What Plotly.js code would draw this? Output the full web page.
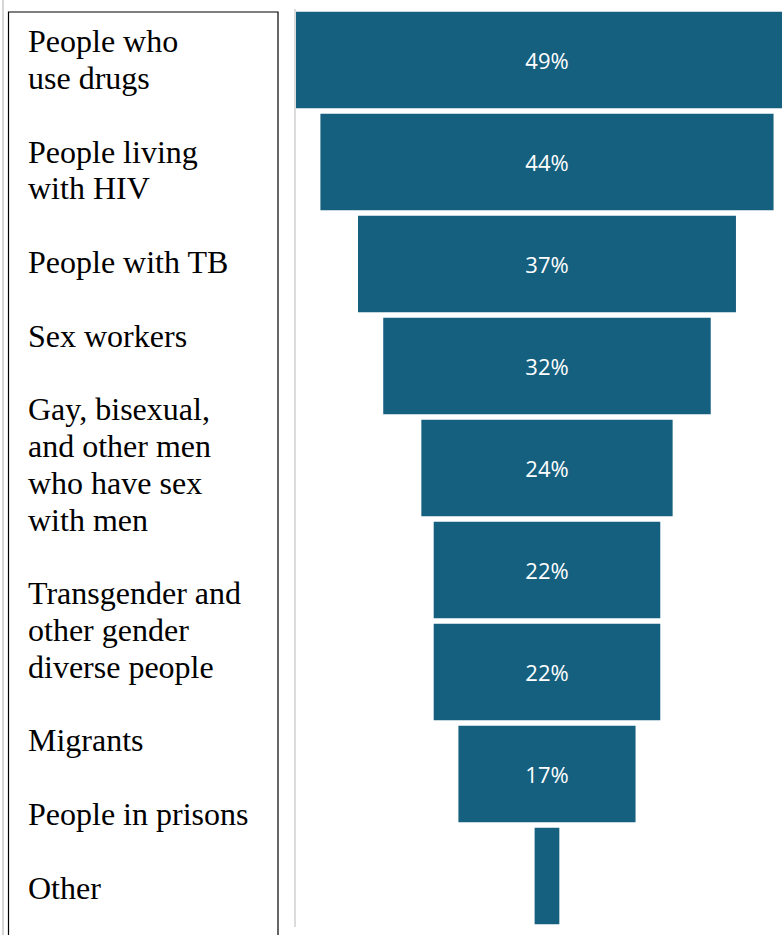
<!DOCTYPE html>
<html>
<head>
<meta charset="utf-8">
<script src="https://cdn.plot.ly/plotly-3.0.1.min.js"></script>
<style>
  html, body { margin: 0; padding: 0; overflow: hidden; background: #ffffff; }
  #chart { width: 782px; height: 935px; }
</style>
</head>
<body>
<div id="chart"></div>
<script>
// ---- data ----
const categories = [
  "People who\nuse drugs",
  "People living\nwith HIV",
  "People with TB",
  "Sex workers",
  "Gay, bisexual,\nand other men\nwho have sex\nwith men",
  "Transgender and\nother gender\ndiverse people",
  "Migrants",
  "People in prisons",
  "Other"
];
const values = [49, 44, 36.7, 31.8, 24.4, 22, 22, 17.2, 2.4];

// ---- layout geometry (pixels) ----
const W = 782, H = 935;
const M = { l: 296, r: 0, t: 9, b: 8 };
const plotW = W - M.l - M.r, plotH = H - M.t - M.b;
const pxX = px => (px - M.l) / plotW;          // pixel x -> paper x
const pxY = py => (H - M.b - py) / plotH;      // pixel y -> paper y

const barColor = "#16607f";
const labelFont = { family: "Liberation Serif, Times New Roman, serif", size: 32, color: "#000000" };
const lineStep = 36.8, firstBaseline = 52;

// Build label annotations: one per text line, with a blank line between groups
const annotations = [];
let lineIdx = 0;
categories.forEach(cat => {
  cat.split("\n").forEach(line => {
    const baseline = firstBaseline + lineStep * lineIdx;
    const center = baseline - 10.8;
    annotations.push({
      xref: "paper", yref: "paper",
      x: pxX(25.5), y: pxY(center),
      xanchor: "left", yanchor: "middle",
      text: line, showarrow: false,
      font: labelFont
    });
    lineIdx++;
  });
  lineIdx++; // blank line
});

const trace = {
  type: "funnel",
  orientation: "h",
  y: categories.map(c => c.replace(/\n/g, " ")),
  x: values,
  marker: { color: barColor, line: { width: 0 } },
  connector: { visible: false },
  texttemplate: "%{x:.0f}%",
  textposition: "inside",
  insidetextanchor: "middle",
  textfont: { family: "Open Sans, sans-serif", size: 22, color: "#ffffff" },
  hoverinfo: "x+y"
};

const layout = {
  width: W, height: H,
  margin: M,
  paper_bgcolor: "#ffffff",
  plot_bgcolor: "#ffffff",
  showlegend: false,
  funnelgap: 0.052,
  uniformtext: { mode: "hide", minsize: 22 },
  xaxis: {
    range: [-24.37, 22.82],
    visible: false,
    fixedrange: true
  },
  yaxis: {
    showticklabels: false,
    ticks: "",
    showgrid: false,
    zeroline: false,
    showline: true,
    linecolor: "#dcdcdc",
    linewidth: 2,
    fixedrange: true
  },
  shapes: [
    { type: "rect", xref: "paper", yref: "paper",
      x0: pxX(8.5), x1: pxX(278), y0: pxY(960), y1: pxY(12),
      line: { color: "#000000", width: 1.2 }, fillcolor: "rgba(0,0,0,0)", layer: "above" },
    { type: "line", xref: "paper", yref: "paper",
      x0: pxX(3), x1: pxX(3), y0: pxY(0), y1: pxY(960),
      line: { color: "#d6d6d6", width: 2 }, layer: "above" }
  ],
  annotations: annotations
};

Plotly.newPlot("chart", [trace], layout, { displayModeBar: false, staticPlot: true });
</script>
</body>
</html>
